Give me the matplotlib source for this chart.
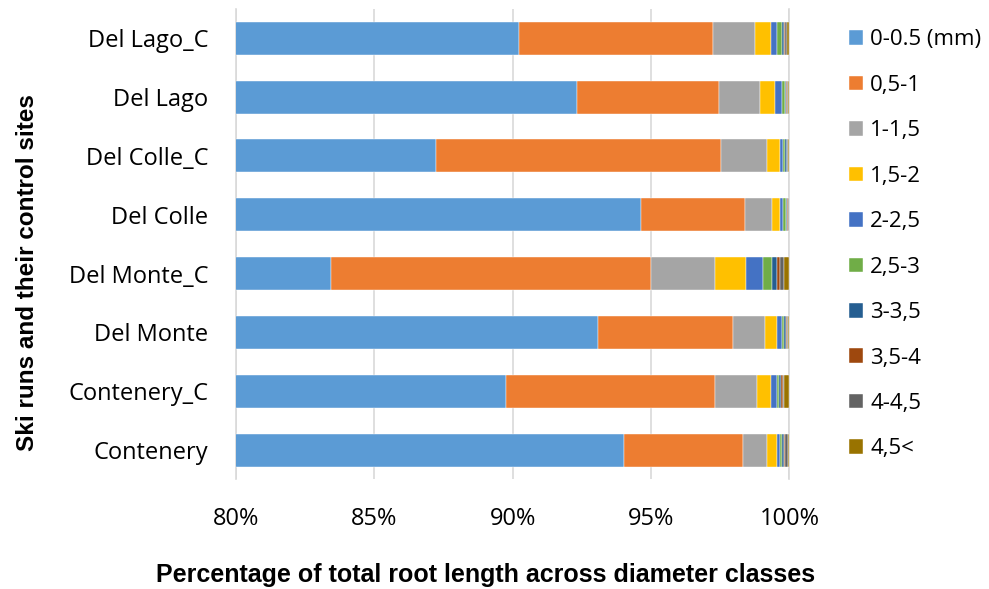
import numpy as np
import matplotlib
matplotlib.use("Agg")
import matplotlib.pyplot as plt

# sites, bottom to top
sites = ["Contenery", "Contenery_C", "Del Monte", "Del Monte_C",
         "Del Colle", "Del Colle_C", "Del Lago", "Del Lago_C"]
classes = ["0-0.5 (mm)", "0,5-1", "1-1,5", "1,5-2", "2-2,5",
           "2,5-3", "3-3,5", "3,5-4", "4-4,5", "4,5<"]
colors = ["#5B9BD5", "#ED7D31", "#A5A5A5", "#FFC000", "#4472C4",
          "#70AD47", "#255E91", "#9E480E", "#636363", "#997300"]

# % of total root length per diameter class (rows follow `sites`)
contenery    = [94.01, 4.31, 0.88, 0.34, 0.12, 0.09, 0.05, 0.04, 0.12, 0.04]
contenery_c  = [89.77, 7.55, 1.52, 0.49, 0.22, 0.09, 0.06, 0.06, 0.03, 0.21]
del_monte    = [93.07, 4.91, 1.15, 0.42, 0.17, 0.09, 0.06, 0.03, 0.04, 0.06]
del_monte_c  = [83.45, 11.55, 2.32, 1.12, 0.62, 0.31, 0.18, 0.12, 0.12, 0.21]
del_colle    = [94.65, 3.74, 0.98, 0.29, 0.12, 0.10, 0.04, 0.03, 0.03, 0.02]
del_colle_c  = [87.24, 10.28, 1.68, 0.47, 0.11, 0.08, 0.04, 0.03, 0.03, 0.04]
del_lago     = [92.34, 5.11, 1.49, 0.56, 0.23, 0.10, 0.05, 0.03, 0.03, 0.06]
del_lago_c   = [90.22, 7.03, 1.52, 0.55, 0.23, 0.17, 0.08, 0.06, 0.05, 0.09]

vals = np.array([contenery, contenery_c, del_monte, del_monte_c,
                 del_colle, del_colle_c, del_lago, del_lago_c]) / 100.0

plt.rcParams["font.family"] = ["Open Sans", "DejaVu Sans"]

fig = plt.figure(figsize=(9.89, 5.89), dpi=100)
ax = fig.add_axes([0.2386, 0.186, 0.5595, 0.799])

y = np.arange(len(sites))
left = np.zeros(len(sites))
for j, (lab, c) in enumerate(zip(classes, colors)):
    ax.barh(y, vals[:, j], left=left, height=0.56, color=c, label=lab,
            edgecolor="white", linewidth=0.3, zorder=3)
    left += vals[:, j]

ax.set_xlim(0.8, 1.0)
ax.set_ylim(-0.5, len(sites) - 0.5)
ax.set_xticks([0.80, 0.85, 0.90, 0.95, 1.00])
ax.set_xticklabels(["80%", "85%", "90%", "95%", "100%"], fontsize=17)
ax.set_yticks(y)
ax.set_yticklabels(sites, fontsize=17)
ax.tick_params(axis="x", length=0, pad=20)
ax.tick_params(axis="y", length=0, pad=20)
ax.xaxis.grid(True, color="#D9D9D9", lw=1.2, zorder=0)
for s in ["top", "bottom"]:
    ax.spines[s].set_visible(False)
for s in ["left", "right"]:
    ax.spines[s].set_color("#D9D9D9")
    ax.spines[s].set_linewidth(1.2)

# axis titles placed in figure coords (the reference has them off-centre)
fig.text(0.491, 0.024, "Percentage of total root length across diameter classes",
         ha="center", va="center", fontsize=18, fontweight="bold", family="Liberation Sans")
fig.text(0.028, 0.538, "Ski runs and their control sites", rotation=90,
         ha="center", va="center", fontsize=17.5, fontweight="bold", family="Liberation Sans")

h, l = ax.get_legend_handles_labels()
fig.legend(h, l, loc="upper left", bbox_to_anchor=(0.858, 0.950), frameon=False,
           fontsize=16, labelspacing=1.1, handlelength=0.63, handleheight=0.63,
           handletextpad=0.35, borderaxespad=0, borderpad=0)

fig.savefig("out.png", dpi=100)
